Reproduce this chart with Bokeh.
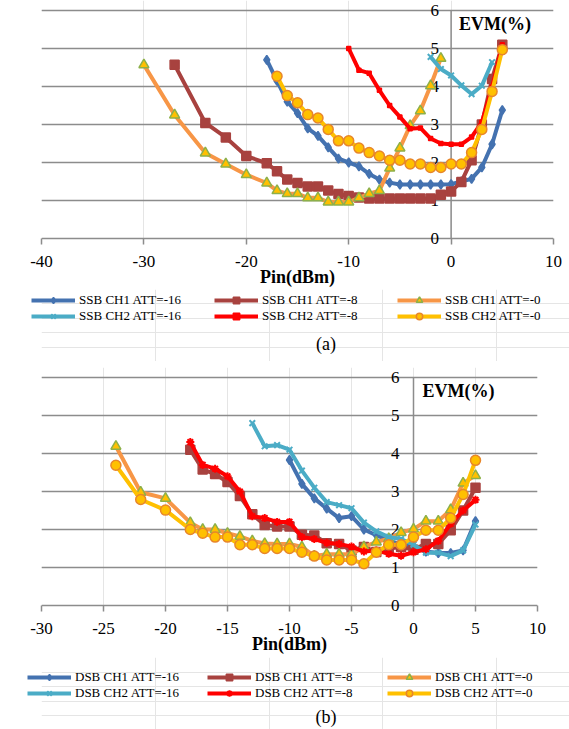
from bokeh.plotting import figure
from bokeh.models import (Range1d, LinearAxis, FixedTicker, Legend, LegendItem,
                          Label, Grid)
from bokeh.core.properties import value
from bokeh.layouts import column
from bokeh.embed import file_html
from bokeh.resources import INLINE

FONT = "Liberation Serif"
GRAY = "#8c8c8c"
NAN = float("nan")

# ---------------- (a) SSB data ----------------
a_xticks = [-40, -30, -20, -10, 0, 10]
a_xtick_labels = ["-40", "-30", "-20", "-10", "0", "10"]
a_yticks = [0, 1, 2, 3, 4, 5, 6]
a_ytick_labels = ["0", "1", "2", "3", "4", "5", "6"]

ssb_ch1_m16_x = [-18, -17, -16, -15, -14, -13, -12, -11, -10, -9, -8, -7, -6, -5, -4, -3, -2, -1, 0, 1, 2, 3, 4, 5]
ssb_ch1_m16_y = [4.7, 4.15, 3.6, 3.3, 2.9, 2.7, 2.4, 2.1, 2.0, 1.9, 1.7, 1.55, 1.47, 1.42, 1.42, 1.42, 1.42, 1.42, 1.43, 1.5, 1.57, 1.87, 2.48, 3.38]

ssb_ch1_m8_x = [-27, -24, -22, -20, -18, -17, -16, -15, -14, -13, -12, -11, -10, -9, -8, -7, -6, -5, -4, -3, -2, -1, 0, 1, 2, 3, 4, 5]
ssb_ch1_m8_y = [4.57, 3.04, 2.66, 2.17, 1.98, 1.77, 1.55, 1.46, 1.37, 1.37, 1.26, 1.17, 1.12, 1.08, 1.05, 1.05, 1.05, 1.05, 1.05, 1.05, 1.05, 1.15, 1.24, 1.49, 2.06, 3.0, 4.2, 5.1]

ssb_ch1_m0_x = [-30, -27, -24, -22, -20, -18, -17, -16, -15, -14, -13, -12, -11, -10, -9, -8, -7, -6, -5, -4, -3, -2, -1]
ssb_ch1_m0_y = [4.57, 3.25, 2.25, 1.96, 1.68, 1.46, 1.26, 1.18, 1.18, 1.07, 1.07, 0.96, 0.96, 0.96, 1.07, 1.18, 1.26, 1.85, 2.38, 2.97, 3.36, 4.02, 4.74]

ssb_ch2_m16_x = [-2, -1, 0, 1, 2, 3, 4]
ssb_ch2_m16_y = [4.78, 4.46, 4.29, 4.03, 3.8, 4.02, 4.64]

ssb_ch2_m8_x = [-10, -9, -8, -7, -6, -5, -4, -3, -2, -1, 0, 1, 2, 3, 4, 5]
ssb_ch2_m8_y = [5.0, 4.43, 4.35, 3.9, 3.5, 3.2, 2.89, 2.91, 2.63, 2.5, 2.48, 2.48, 2.67, 3.06, 3.98, 5.1]

ssb_ch2_m0_x = [-17, -16, -15, -14, -13, -12, -11, -10, -9, -8, -7, -6, -5, -4, -3, -2, -1, 0, 1, 2, 3, 4, 5]
ssb_ch2_m0_y = [4.27, 3.76, 3.57, 3.26, 3.17, 2.87, 2.57, 2.57, 2.38, 2.26, 2.17, 2.06, 2.06, 1.96, 1.96, 1.87, 1.87, 1.96, 1.96, 2.26, 2.87, 3.87, 4.97]

# ---------------- (b) DSB data ----------------
b_xticks = [-30, -25, -20, -15, -10, -5, 0, 5, 10]
b_xtick_labels = ["-30", "-25", "-20", "-15", "-10", "-5", "0", "5", "10"]
b_yticks = [0, 1, 2, 3, 4, 5, 6]
b_ytick_labels = ["0", "1", "2", "3", "4", "5", "6"]

dsb_ch1_m16_x = [-10, -9, -8, -7, -6, -5, -4, -3, -2, -1, 0, 1, 2, 3, 4, 5]
dsb_ch1_m16_y = [3.83, 3.2, 2.82, 2.55, 2.3, 2.35, 2.0, 1.85, 1.71, 1.6, 1.56, 1.42, 1.38, 1.38, 1.45, 2.22]

dsb_ch1_m8_x = [-18, -17, -16, -15, -14, -13, -12, -11, -10, -9, -8, -7, -6, -5, -4, -3, -2, -1, 0, 1, 2, 3, 4, 5]
dsb_ch1_m8_y = [4.1, 3.58, 3.46, 3.25, 2.88, 2.4, 2.12, 2.08, 2.08, 1.86, 1.84, 1.64, 1.62, 1.45, 1.54, 1.41, 1.5, 1.54, 1.47, 1.62, 1.62, 1.98, 2.5, 3.1]

dsb_ch1_m0_x = [-24, -22, -20, -18, -17, -16, -15, -14, -13, -12, -11, -10, -9, -8, -7, -6, -5, -4, -3, -2, -1, 0, 1, 2, 3, 4, 5]
dsb_ch1_m0_y = [4.19, 2.98, 2.82, 2.18, 2.0, 2.0, 1.9, 1.82, 1.7, 1.63, 1.62, 1.62, 1.54, 1.3, 1.35, 1.35, 1.35, 1.54, 1.67, 1.76, 1.92, 2.01, 2.22, 2.22, 2.52, 3.22, 3.42]

dsb_ch2_m16_x = [-13, -12, -11, -10, -9, -8, -7, -6, -5, -4, -3, -2, -1, 0, 1, 2, 3, 4, 5]
dsb_ch2_m16_y = [4.8, 4.19, 4.22, 4.1, 3.55, 3.1, 2.72, 2.64, 2.56, 2.18, 1.95, 1.8, 1.75, 1.6, 1.39, 1.39, 1.3, 1.45, 2.13]

dsb_ch2_m8_x = [-18, -17, -16, -15, -14, -13, -12, -11, -10, -9, -8, -7, -6, -5, -4, -3, -2, -1, 0, 1, 2, 3, 4, 5]
dsb_ch2_m8_y = [4.3, 3.7, 3.6, 3.4, 3.0, 2.35, 2.3, 2.2, 2.2, 1.8, 1.75, 1.65, 1.62, 1.55, 1.42, 1.45, 1.36, 1.31, 1.4, 1.48, 1.7, 2.15, 2.5, 2.78]

dsb_ch2_m0_x = [-24, -22, -20, -18, -17, -16, -15, -14, -13, -12, -11, -10, -9, -8, -7, -6, -5, -4, -3, -2, -1, 0, 1, 2, 3, 4, 5]
dsb_ch2_m0_y = [3.69, 2.79, 2.51, 2.0, 1.9, 1.8, 1.8, 1.6, 1.6, 1.5, 1.5, 1.5, 1.4, 1.3, 1.2, 1.2, 1.2, 1.1, 1.4, 1.6, 1.6, 1.8, 1.98, 1.98, 2.3, 2.92, 3.82]

# ---------------- styles ----------------
C_BLUE = "#4472b0"
C_LBLUE = "#4bacc6"
C_DRED = "#a8423f"
C_RED = "#ff0000"
C_ORANGE = "#f79646"
C_YELLOW = "#ffc000"

STYLE_CH1_M16 = dict(color=C_BLUE, marker="diamond", size=9, fill=C_BLUE, mline=C_BLUE)
STYLE_CH1_M8 = dict(color=C_DRED, marker="square", size=9, fill=C_DRED, mline=C_DRED)
STYLE_CH1_M0 = dict(color=C_ORANGE, marker="triangle", size=10, fill=C_YELLOW, mline="#8db04a")
STYLE_CH2_M16 = dict(color=C_LBLUE, marker="x", size=8, fill=C_LBLUE, mline=C_LBLUE)
STYLE_CH2_M8_A = dict(color=C_RED, marker="square", size=4, fill=C_RED, mline=C_RED)
STYLE_CH2_M8_B = dict(color=C_RED, marker="asterisk", size=8, fill=C_RED, mline=C_RED)
STYLE_CH2_M0 = dict(color=C_YELLOW, marker="circle", size=10, fill=C_YELLOW, mline="#e8862a")

SERIES_A = [
    ("SSB CH1 ATT=-16", ssb_ch1_m16_x, ssb_ch1_m16_y, STYLE_CH1_M16),
    ("SSB CH1 ATT=-8", ssb_ch1_m8_x, ssb_ch1_m8_y, STYLE_CH1_M8),
    ("SSB CH1 ATT=-0", ssb_ch1_m0_x, ssb_ch1_m0_y, STYLE_CH1_M0),
    ("SSB CH2 ATT=-16", ssb_ch2_m16_x, ssb_ch2_m16_y, STYLE_CH2_M16),
    ("SSB CH2 ATT=-8", ssb_ch2_m8_x, ssb_ch2_m8_y, STYLE_CH2_M8_A),
    ("SSB CH2 ATT=-0", ssb_ch2_m0_x, ssb_ch2_m0_y, STYLE_CH2_M0),
]
SERIES_B = [
    ("DSB CH1 ATT=-16", dsb_ch1_m16_x, dsb_ch1_m16_y, STYLE_CH1_M16),
    ("DSB CH1 ATT=-8", dsb_ch1_m8_x, dsb_ch1_m8_y, STYLE_CH1_M8),
    ("DSB CH1 ATT=-0", dsb_ch1_m0_x, dsb_ch1_m0_y, STYLE_CH1_M0),
    ("DSB CH2 ATT=-16", dsb_ch2_m16_x, dsb_ch2_m16_y, STYLE_CH2_M16),
    ("DSB CH2 ATT=-8", dsb_ch2_m8_x, dsb_ch2_m8_y, STYLE_CH2_M8_B),
    ("DSB CH2 ATT=-0", dsb_ch2_m0_x, dsb_ch2_m0_y, STYLE_CH2_M0),
]

PAGE_W = 569
PPU = 38.0      # pixels per EVM unit
PAD_T = 10      # px of frame above the top gridline
PAD_B = 6       # px of frame below the zero gridline
ROW_H = 16      # legend row height


def draw_series(p, xs, ys, st):
    lr = p.line(xs, ys, line_color=st["color"], line_width=4)
    if st["marker"] in ("x", "asterisk"):
        sr = p.scatter(xs, ys, marker=st["marker"], size=st["size"],
                       line_color=st["mline"], line_width=2)
    else:
        sr = p.scatter(xs, ys, marker=st["marker"], size=st["size"], fill_color=st["fill"],
                       line_color=st["mline"], line_width=1.5)
    return lr, sr


def make_chart(series, xticks, xlabels, yticks, ylabels, ml, mr, mt, fw, mb, ylab_dx, evm_dx):
    y0 = yticks[0] - PAD_B / PPU
    y1 = yticks[-1] + PAD_T / PPU
    fh = int(round((yticks[-1] - yticks[0]) * PPU)) + PAD_T + PAD_B
    p = figure(frame_width=fw, frame_height=fh,
               x_range=Range1d(xticks[0], xticks[-1]), y_range=Range1d(y0, y1),
               output_backend="svg", toolbar_location=None,
               x_axis_location=None, y_axis_location=None,
               min_border_left=ml, min_border_right=mr, min_border_top=mt,
               min_border_bottom=mb)
    p.outline_line_color = None
    p.background_fill_color = "white"
    p.border_fill_color = "white"

    p.add_layout(Grid(dimension=1, ticker=FixedTicker(ticks=yticks),
                      grid_line_color=GRAY, grid_line_width=1.5))

    xaxis = LinearAxis(ticker=FixedTicker(ticks=xticks), axis_label="Pin(dBm)")
    xaxis.major_label_overrides = {t: s for t, s in zip(xticks, xlabels)}
    xaxis.axis_line_color = None
    xaxis.major_tick_line_color = GRAY
    xaxis.major_tick_line_width = 1.5
    xaxis.major_tick_out = 0
    xaxis.major_tick_in = PAD_B
    xaxis.minor_tick_line_color = None
    xaxis.major_label_text_font = FONT
    xaxis.major_label_text_font_size = "17px"
    xaxis.major_label_text_color = "black"
    xaxis.major_label_standoff = 11
    xaxis.axis_label_text_font = FONT
    xaxis.axis_label_text_font_size = "18px"
    xaxis.axis_label_text_font_style = "bold"
    xaxis.axis_label_text_color = "black"
    xaxis.axis_label_standoff = -3
    p.add_layout(xaxis, "below")

    # vertical axis at Pin = 0 with its tick labels
    p.segment(x0=[0], y0=[yticks[0]], x1=[0], y1=[yticks[-1]],
              line_color=GRAY, line_width=1.5)
    p.text(x=[0] * len(yticks), y=yticks, text=ylabels, x_offset=-ylab_dx,
           text_align="right", text_baseline="middle", text_color="black",
           text_font=value(FONT), text_font_size=value("17px"))

    for (label, xs, ys, st) in series:
        draw_series(p, xs, ys, st)

    p.add_layout(Label(x=0, y=yticks[-1] - 0.35, x_offset=evm_dx, text="EVM(%)",
                       text_font=FONT, text_font_size="18px", text_font_style="bold",
                       text_baseline="middle", text_color="black"))
    return p


def make_legend(series, h, leg_x, leg_top, leg_lw, caption, cap_y):
    q = figure(frame_width=PAGE_W, frame_height=h, x_range=Range1d(0, 1), y_range=Range1d(0, 1),
               output_backend="svg", toolbar_location=None,
               x_axis_location=None, y_axis_location=None, min_border=0)
    q.outline_line_color = None
    q.background_fill_color = "white"
    q.border_fill_color = "white"
    items = []
    for (label, xs, ys, st) in series:
        # swatch-only renderers (a single undefined point, nothing is drawn in the frame)
        lr, sr = draw_series(q, [NAN], [NAN], st)
        items.append(LegendItem(label=label, renderers=[lr, sr]))
    rows = 2
    legend = Legend(items=items, location=(leg_x, h - leg_top - rows * ROW_H),
                    orientation="horizontal", ncols=3,
                    glyph_width=44, glyph_height=ROW_H, label_height=ROW_H, label_width=leg_lw,
                    label_standoff=4, spacing=0, padding=0, margin=0,
                    border_line_color=None, background_fill_alpha=0,
                    label_text_font=FONT, label_text_font_size="13px",
                    label_text_color="black", label_text_baseline="middle")
    q.add_layout(legend, "center")
    q.add_layout(Label(x=PAGE_W / 2, y=h - cap_y, x_units="screen", y_units="screen",
                       text=caption, text_align="center", text_baseline="middle",
                       text_font=FONT, text_font_size="18px", text_color="black"))
    return q


# chart (a): frame top at y=0, gridline 6 at y=10, gridline 0 at y=238
pa = make_chart(SERIES_A, a_xticks, a_xtick_labels, a_yticks, a_ytick_labels,
                ml=33, mr=24, mt=0, fw=512, mb=44, ylab_dx=12, evm_dx=8)
# chart (a) ends at y = 244 + 44 = 288
la = make_legend(SERIES_A, 72, leg_x=31, leg_top=3, leg_lw=135, caption="(a)", cap_y=54)
# page y = 360 from here
pb = make_chart(SERIES_B, b_xticks, b_xtick_labels, b_yticks, b_ytick_labels,
                ml=41, mr=32, mt=6, fw=496, mb=46, ylab_dx=14, evm_dx=9)
# chart (b) ends at y = 360 + 6 + 244 + 46 = 656
lb = make_legend(SERIES_B, 73, leg_x=27, leg_top=12, leg_lw=132, caption="(b)", cap_y=59)

layout = column(pa, la, pb, lb, spacing=0)
open("out.html", "w").write(file_html(layout, INLINE))
